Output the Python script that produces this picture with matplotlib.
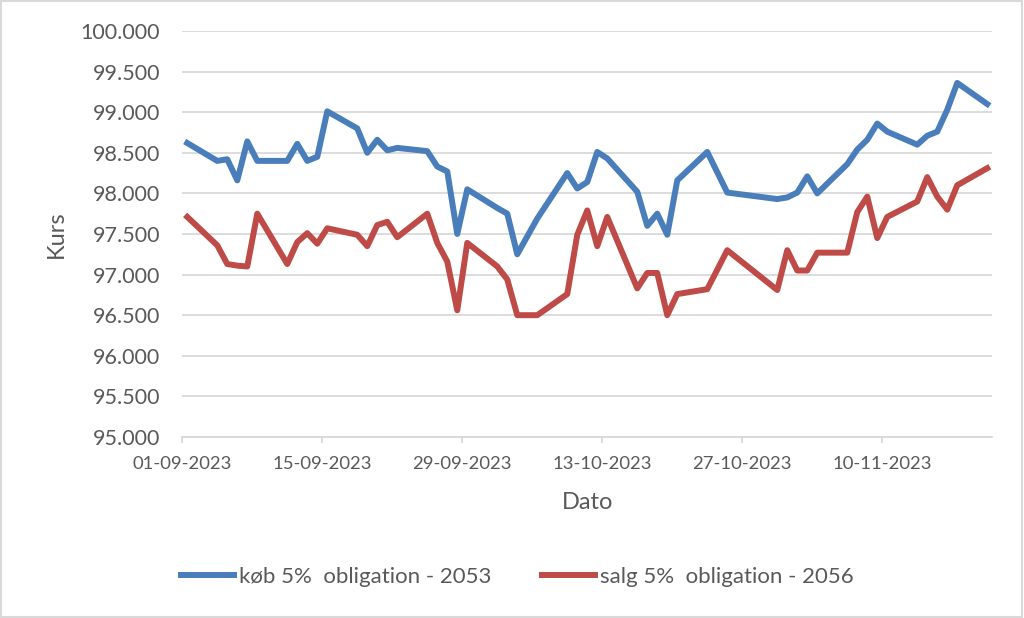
import matplotlib
matplotlib.use("Agg")
import matplotlib.pyplot as plt
import matplotlib.dates as mdates
import pandas as pd
from matplotlib.patches import Rectangle
from matplotlib.ticker import FuncFormatter

plt.rcParams['font.family'] = ['Lato', 'DejaVu Sans']

# handelsdage
dates = ["2023-09-01", "2023-09-04", "2023-09-05", "2023-09-06", "2023-09-07", "2023-09-08",
         "2023-09-11", "2023-09-12", "2023-09-13", "2023-09-14", "2023-09-15",
         "2023-09-18", "2023-09-19", "2023-09-20", "2023-09-21", "2023-09-22",
         "2023-09-25", "2023-09-26", "2023-09-27", "2023-09-28", "2023-09-29",
         "2023-10-02", "2023-10-03", "2023-10-04", "2023-10-06",
         "2023-10-09", "2023-10-10", "2023-10-11", "2023-10-12", "2023-10-13",
         "2023-10-16", "2023-10-17", "2023-10-18", "2023-10-19", "2023-10-20",
         "2023-10-23", "2023-10-25", "2023-10-30", "2023-10-31",
         "2023-11-01", "2023-11-02", "2023-11-03",
         "2023-11-06", "2023-11-07", "2023-11-08", "2023-11-09", "2023-11-10",
         "2023-11-13", "2023-11-14", "2023-11-15", "2023-11-16", "2023-11-17",
         "2023-11-20"]

koeb = [98.62, 98.40, 98.42, 98.16, 98.64, 98.40,
        98.40, 98.61, 98.40, 98.45, 99.01,
        98.80, 98.50, 98.66, 98.53, 98.56,
        98.52, 98.33, 98.27, 97.50, 98.05,
        97.82, 97.75, 97.25, 97.69,
        98.25, 98.06, 98.14, 98.51, 98.43,
        98.02, 97.60, 97.75, 97.49, 98.16,
        98.51, 98.01, 97.93, 97.95,
        98.01, 98.21, 98.00,
        98.36, 98.54, 98.66, 98.86, 98.76,
        98.60, 98.71, 98.76, 99.03, 99.36,
        99.10]

salg = [97.71, 97.36, 97.13, 97.11, 97.10, 97.75,
        97.13, 97.40, 97.51, 97.38, 97.57,
        97.49, 97.35, 97.61, 97.65, 97.46,
        97.75, 97.39, 97.16, 96.56, 97.39,
        97.10, 96.94, 96.50, 96.50,
        96.76, 97.49, 97.79, 97.35, 97.71,
        96.83, 97.02, 97.02, 96.50, 96.76,
        96.82, 97.30, 96.81, 97.30,
        97.05, 97.05, 97.27,
        97.27, 97.77, 97.96, 97.45, 97.71,
        97.90, 98.20, 97.96, 97.80, 98.10,
        98.31]

labels = ["køb 5%  obligation - 2053", "salg 5%  obligation - 2056"]

x = pd.to_datetime(dates) + pd.Timedelta(hours=12)  # Excel centrerer punkter i dagen

fig = plt.figure(figsize=(10.24, 6.18), dpi=100)
ax = fig.add_axes([0.178, 0.2929, 0.791, 0.657])

ax.plot(x, koeb, color='#4a7ebb', lw=4.3, solid_joinstyle='round', label=labels[0])
ax.plot(x, salg, color='#be4b48', lw=4.3, solid_joinstyle='round', label=labels[1])

ax.set_xlim(pd.Timestamp("2023-09-01"), pd.Timestamp("2023-11-21"))
ax.set_ylim(95, 100)
ax.set_yticks([95 + 0.5 * i for i in range(11)])
ax.yaxis.set_major_formatter(FuncFormatter(lambda v, p: f"{v:.3f}"))
ax.set_xticks(pd.date_range("2023-09-01", periods=6, freq="14D"))
ax.xaxis.set_major_formatter(mdates.DateFormatter("%d-%m-%Y"))

ax.grid(axis='y', color='#d9d9d9', lw=1.3)
ax.set_axisbelow(True)
for s in ['top', 'right', 'left']:
    ax.spines[s].set_visible(False)
ax.spines['bottom'].set_color('#d9d9d9')
ax.spines['bottom'].set_linewidth(1.3)

ax.tick_params(axis='y', length=0, pad=16, labelsize=15.5, labelcolor='#595959')
ax.tick_params(axis='x', length=4, width=1.3, color='#d9d9d9', pad=10,
               labelsize=13.3, labelcolor='#595959')

ax.set_ylabel("Kurs", fontsize=17, color='#595959', labelpad=10)
ax.set_xlabel("Dato", fontsize=17, color='#595959', labelpad=14)

fig.legend(loc='center', bbox_to_anchor=(0.505, 0.066), ncol=2, frameon=False,
           fontsize=16, labelcolor='#595959', handlelength=2.4,
           handletextpad=0.2, columnspacing=2.3)

# grå ramme om hele figuren
fig.patches.append(Rectangle((0.001, 0.002), 0.997, 0.996, transform=fig.transFigure,
                             fill=False, edgecolor='#d9d9d9', lw=1.5))

fig.savefig("out.png", dpi=100)
